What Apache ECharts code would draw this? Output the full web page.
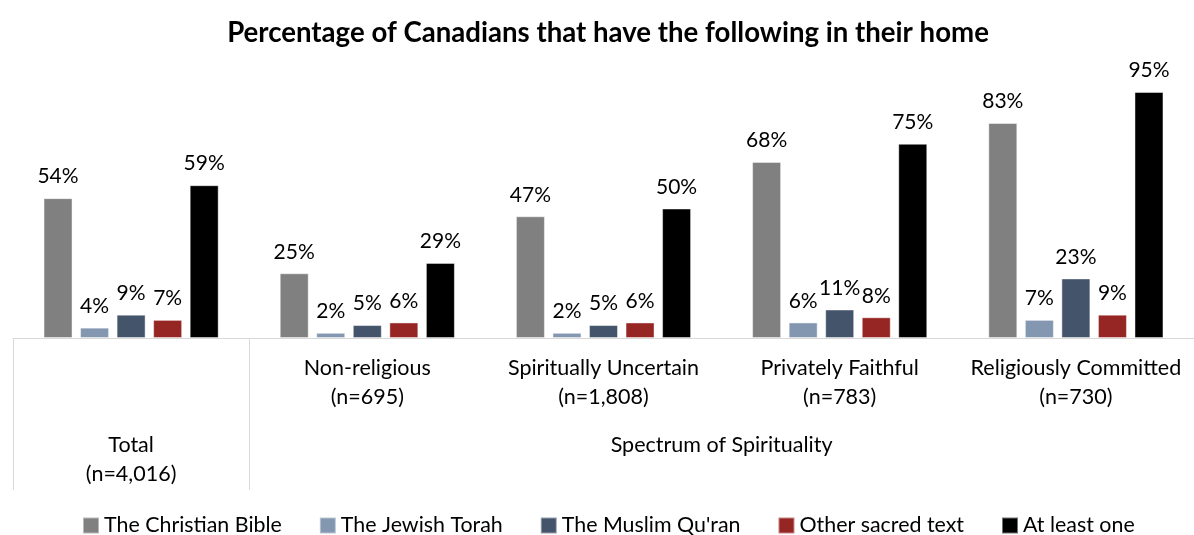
<!DOCTYPE html>
<html>
<head>
<meta charset="utf-8">
<script src="https://cdn.jsdelivr.net/npm/echarts@6/dist/echarts.min.js"></script>
<style>
  html, body { margin: 0; padding: 0; background: #ffffff; }
  #chart { width: 1194px; height: 535px; }
</style>
</head>
<body>
<div id="chart"></div>
<script>
// Segments of respondents (first = overall sample, the rest = spectrum of spirituality)
const categories = ['Total', 'Non-religious', 'Spiritually Uncertain', 'Privately Faithful', 'Religiously Committed'];
const sampleSizes = ['(n=4,016)', '(n=695)', '(n=1,808)', '(n=783)', '(n=730)'];
const groupTitle = 'Spectrum of Spirituality';

// Share of each segment with the text in their home (%)
const christianBible = [54, 25, 47, 68, 83];
const jewishTorah = [4, 2, 2, 6, 7];
const muslimQuran = [9, 5, 5, 11, 23];
const otherSacredText = [7, 6, 6, 8, 9];
const atLeastOne = [59, 29, 50, 75, 95];

const seriesNames = ['The Christian Bible', 'The Jewish Torah', "The Muslim Qu'ran", 'Other sacred text', 'At least one'];
const seriesColors = ['#808080', '#8497b0', '#44546a', '#962624', '#000000'];
const seriesValues = [christianBible, jewishTorah, muslimQuran, otherSacredText, atLeastOne];

const FONT = 'Lato, "Open Sans", sans-serif';
const AXIS_FONT_SIZE = 21.5;
const chart = echarts.init(document.getElementById('chart'));

chart.setOption({
  animation: false,
  backgroundColor: '#ffffff',
  textStyle: { fontFamily: FONT },
  title: {
    text: 'Percentage of Canadians that have the following in their home',
    left: 603,
    textAlign: 'center',
    top: 14,
    textStyle: { fontFamily: FONT, fontSize: 27.6, fontWeight: 'bold', color: '#000000' }
  },
  legend: {
    top: 510,
    left: 77,
    icon: 'rect',
    itemWidth: 16,
    itemHeight: 16,
    itemGap: 37,
    textStyle: { fontFamily: FONT, fontSize: 21.4, color: '#000000' },
    data: seriesNames
  },
  grid: { left: 13, top: 79, width: 1187, height: 259 },
  xAxis: [
    {
      type: 'category',
      data: categories,
      axisLine: { lineStyle: { color: '#d9d9d9', width: 1 } },
      axisTick: { show: false },
      axisLabel: {
        interval: 0,
        margin: 16,
        fontSize: AXIS_FONT_SIZE,
        lineHeight: 29,
        color: '#000000',
        fontFamily: FONT,
        formatter: (v, i) => (i === 0 ? '' : v + '\n' + sampleSizes[i])
      }
    },
    {
      // Outer level of the category axis: "Total" on its own, then the spectrum group
      type: 'value',
      position: 'bottom',
      min: 0,
      max: categories.length,
      axisLine: { show: false },
      splitLine: { show: false },
      axisTick: {
        show: true,
        customValues: [0, 1],
        length: 152,
        lineStyle: { color: '#d9d9d9', width: 1 }
      },
      axisLabel: {
        customValues: [0.5, (1 + categories.length) / 2],
        margin: 93,
        fontSize: AXIS_FONT_SIZE,
        lineHeight: 29,
        color: '#000000',
        fontFamily: FONT,
        formatter: (v) => (v < 1 ? categories[0] + '\n' + sampleSizes[0] : groupTitle)
      }
    }
  ],
  yAxis: {
    type: 'value',
    min: 0,
    max: 100,
    show: false,
    splitLine: { show: false }
  },
  series: seriesValues.map((vals, k) => ({
    name: seriesNames[k],
    type: 'bar',
    xAxisIndex: 0,
    data: vals,
    barWidth: 29,
    barGap: '26%',
    itemStyle: { color: seriesColors[k], borderColor: 'rgba(255,255,255,0.45)', borderWidth: 1 },
    label: {
      show: true,
      position: 'top',
      distance: 11,
      fontSize: 21,
      color: '#000000',
      fontFamily: FONT,
      formatter: '{c}%'
    }
  }))
});
</script>
</body>
</html>
